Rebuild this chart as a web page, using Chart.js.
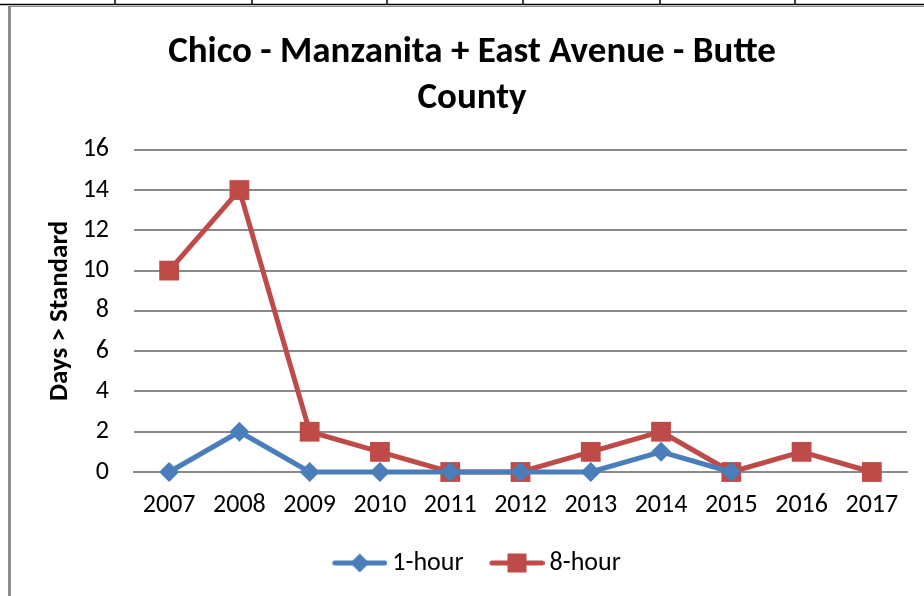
<!DOCTYPE html>
<html>
<head>
<meta charset="utf-8">
<script src="https://cdn.jsdelivr.net/npm/chart.js@4"></script>
<style>
  html, body { margin: 0; padding: 0; background: #fff; }
  #wrap { width: 924px; height: 596px; }
</style>
</head>
<body>
<div id="wrap"><canvas id="myChart" width="924" height="596"></canvas></div>
<script>
let years = ['2007','2008','2009','2010','2011','2012','2013','2014','2015','2016','2017'];
let oneHour = [0, 2, 0, 0, 0, 0, 0, 1, 0, null, null];
let eightHour = [10, 14, 2, 1, 0, 0, 1, 2, 0, 1, 0];
let yTicks = [0, 2, 4, 6, 8, 10, 12, 14, 16];

let blue = '#4a7ebb';
let red = '#be4b48';
let font = "Carlito, Lato, 'Liberation Sans', sans-serif";

// legend swatch: line with the marker on top (left part of the canvas stays empty)
function swatch(color, shape) {
    let c = document.createElement('canvas');
    c.width = 72; c.height = 22;
    let g = c.getContext('2d');
    g.strokeStyle = color; g.lineWidth = 5; g.lineCap = 'round';
    g.beginPath(); g.moveTo(19.5, 11); g.lineTo(69.5, 11); g.stroke();
    g.fillStyle = color;
    g.beginPath();
    if (shape == 'diamond') {
        g.moveTo(44.5, 1.5); g.lineTo(54, 11); g.lineTo(44.5, 20.5); g.lineTo(35, 11);
    } else {
        g.rect(35, 1.5, 19, 19);
    }
    g.closePath(); g.fill();
    return c;
}

// page frame around the chart
let frame = {
    id: 'frame',
    beforeDraw(chart) {
        let g = chart.ctx;
        g.save();
        g.fillStyle = '#fff';
        g.fillRect(0, 0, chart.width, chart.height);
        g.strokeStyle = '#8c8c8c'; g.lineWidth = 3;
        g.beginPath(); g.moveTo(9.5, 6); g.lineTo(9.5, 596); g.stroke();
        g.lineWidth = 1;
        g.beginPath(); g.moveTo(8, 6.5); g.lineTo(924, 6.5); g.stroke();
        g.strokeStyle = '#000'; g.lineWidth = 1.5;
        g.beginPath(); g.moveTo(0, 4.5); g.lineTo(924, 4.5); g.stroke();
        [115, 252, 387, 523, 660, 795].forEach(x => {
            g.beginPath(); g.moveTo(x, 0); g.lineTo(x, 4.5); g.stroke();
        });
        g.restore();
    }
};

let ctx = document.querySelector('#myChart').getContext('2d');
let myChart = new Chart(ctx, {
    type: 'line',
    data: {
        labels: years,
        datasets: [{
            label: '1-hour',
            data: oneHour,
            borderColor: blue,
            backgroundColor: blue,
            borderWidth: 5,
            pointStyle: 'rectRot',
            pointRadius: 10,
            pointBorderWidth: 0,
            spanGaps: false,
            clip: false
        }, {
            label: '8-hour',
            data: eightHour,
            borderColor: red,
            backgroundColor: red,
            borderWidth: 5,
            pointStyle: 'rect',
            pointRadius: 14,
            pointBorderWidth: 0,
            clip: false
        }]
    },
    options: {
        responsive: false,
        animation: false,
        layout: { padding: { left: 20, right: 0, top: 0, bottom: 10 } },
        plugins: {
            title: {
                display: true,
                text: ['Chico - Manzanita + East Avenue - Butte', 'County'],
                color: '#000',
                font: { family: font, size: 37, weight: 'bold', lineHeight: 1.24 },
                padding: { top: 30, bottom: 28 }
            },
            legend: {
                position: 'bottom',
                labels: {
                    usePointStyle: true,
                    pointStyleWidth: 56,
                    color: '#000',
                    font: { family: font, size: 26 },
                    padding: 17,
                    generateLabels: function(chart) {
                        return chart.data.datasets.map((d, i) => ({
                            text: d.label,
                            pointStyle: swatch(d.borderColor, i == 0 ? 'diamond' : 'square'),
                            fillStyle: d.borderColor,
                            strokeStyle: d.borderColor,
                            lineWidth: 0,
                            fontColor: '#000',
                            datasetIndex: i
                        }));
                    }
                }
            },
            tooltip: { enabled: false }
        },
        scales: {
            x: {
                offset: true,
                afterFit: function(scale) { scale.height = 61; },
                grid: { display: false, drawTicks: false },
                border: { color: '#8a8a8a', width: 2 },
                ticks: { color: '#000', font: { family: font, size: 26 }, padding: 18, maxRotation: 0, autoSkip: false }
            },
            y: {
                min: 0,
                max: 16,
                afterBuildTicks: function(scale) { scale.ticks = yTicks.map(v => ({ value: v })); },
                afterFit: function(scale) { scale.width = 114; },
                grid: { color: '#8a8a8a', lineWidth: 2, drawTicks: false },
                border: { display: false },
                ticks: { color: '#000', font: { family: font, size: 26 }, padding: 25 },
                title: {
                    display: true,
                    text: 'Days > Standard',
                    color: '#000',
                    font: { family: font, size: 27, weight: 'bold' },
                    padding: { top: 24, bottom: 0 }
                }
            },
            y2: {
                position: 'right',
                display: true,
                grid: { display: false, drawTicks: false },
                border: { display: false },
                ticks: { display: false },
                afterFit: function(scale) { scale.width = 17; }
            }
        }
    },
    plugins: [frame]
});
</script>
</body>
</html>
